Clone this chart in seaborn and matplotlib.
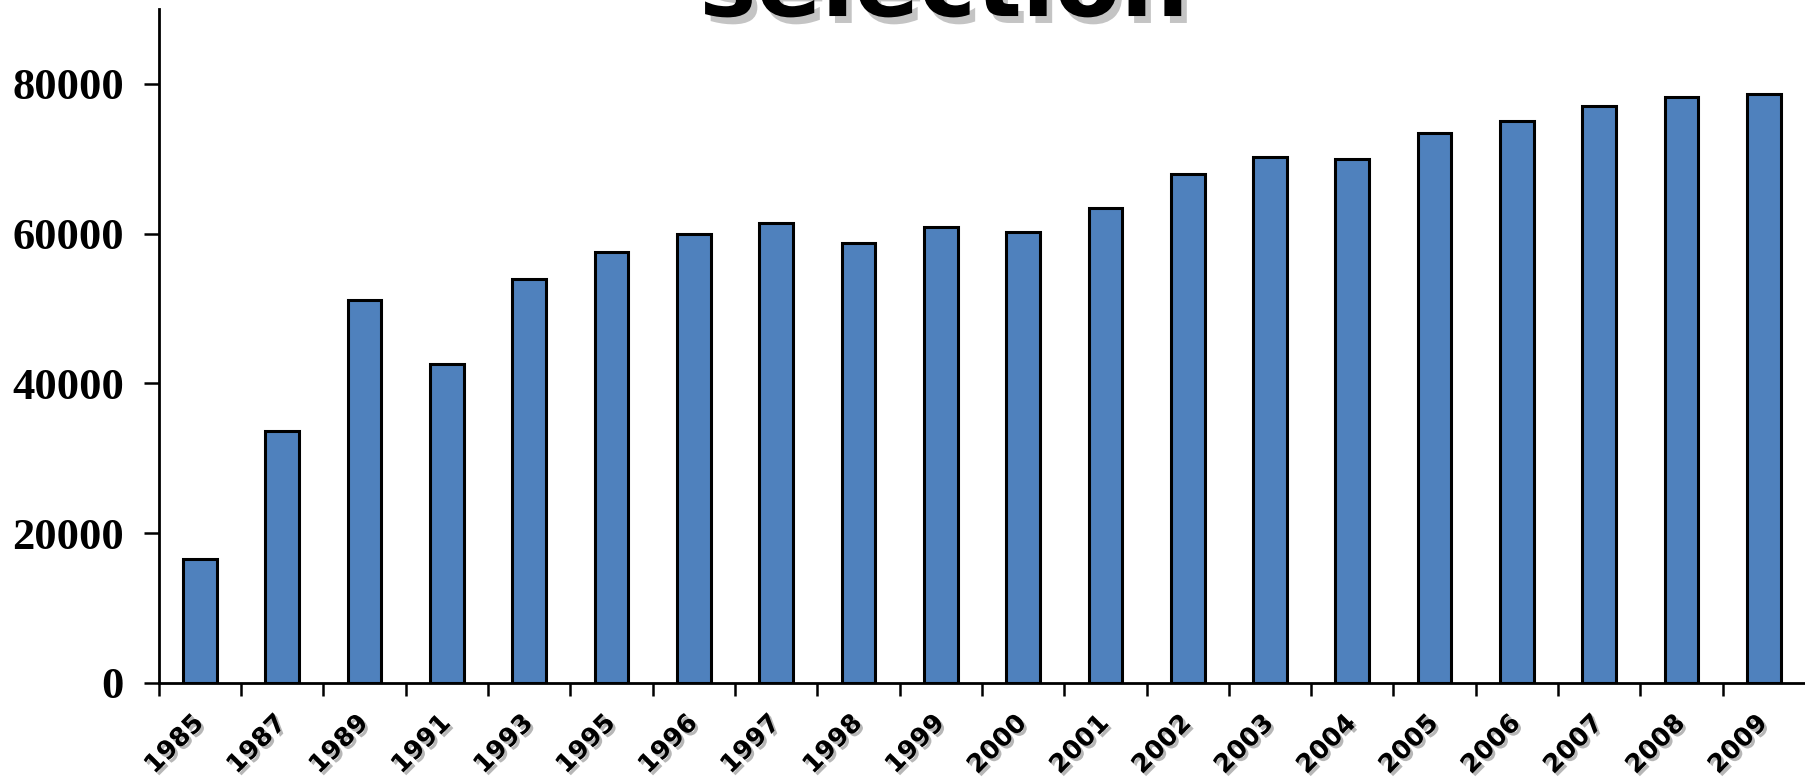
import matplotlib
matplotlib.use('Agg')
import matplotlib.pyplot as plt
import matplotlib.patheffects as pe
import seaborn as sns
from pandas import DataFrame

# data
years = ['1985', '1987', '1989', '1991', '1993', '1995', '1996', '1997', '1998', '1999',
         '2000', '2001', '2002', '2003', '2004', '2005', '2006', '2007', '2008', '2009']
values = [16500, 33700, 51100, 42600, 53900, 57500, 60000, 61400, 58800, 60900,
          60200, 63400, 68000, 70200, 69900, 73400, 75100, 77100, 78200, 78600]
yticks = [0, 20000, 40000, 60000, 80000]

df = DataFrame({'year': years, 'value': values})

sns.set_style('white')
fig = plt.figure(figsize=(18.05, 7.82), dpi=100)
ax = fig.add_axes([0.088, 0.1266, 0.912, 0.862])

sns.barplot(data=df, x='year', y='value', order=years, color='#4F81BD',
            saturation=1, width=0.41, edgecolor='black', linewidth=2.2, ax=ax)

ax.set_xlim(-0.5, len(years) - 0.5)
ax.set_ylim(0, 90000)
ax.set_xlabel('')
ax.set_ylabel('')

sns.despine(ax=ax)
for s in ['left', 'bottom']:
    ax.spines[s].set_linewidth(2.0)
    ax.spines[s].set_color('black')

# y ticks, bold serif
ax.set_yticks(yticks)
ax.set_yticklabels([str(v) for v in yticks], fontfamily='Liberation Serif',
                   fontweight='bold', fontsize=32)
ax.tick_params(axis='y', direction='out', length=11, width=1.8, pad=14,
               colors='black', left=True)

# x ticks at category boundaries, labels at centres
ax.set_xticks([i - 0.5 for i in range(len(years))])
ax.set_xticklabels([])
ax.tick_params(axis='x', which='major', direction='out', length=9, width=1.8, bottom=True,
               colors='black')
ax.set_xticks(range(len(years)), minor=True)
ax.set_xticklabels(years, minor=True, rotation=45, ha='right', va='center',
                   rotation_mode='anchor', fontweight='bold', fontsize=18.5, color='black')
ax.tick_params(axis='x', which='minor', length=0, pad=26)
shadow = [pe.withSimplePatchShadow(offset=(2, -2), shadow_rgbFace='#999999', alpha=0.7)]
for lab in ax.get_xticklabels(minor=True):
    lab.set_path_effects(shadow)

fig.text(0.523, 0.9795, 'selection', ha='center', va='baseline', fontsize=69,
         fontweight='bold', color='black',
         path_effects=[pe.withSimplePatchShadow(offset=(4, -5), shadow_rgbFace='#c4c4c4', alpha=1)])

fig.savefig('out.png', dpi=100)
